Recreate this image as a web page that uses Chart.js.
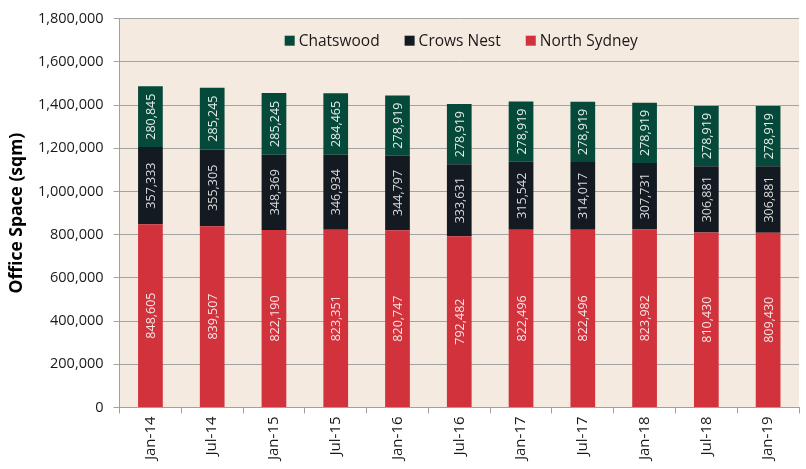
<!DOCTYPE html>
<html>
<head>
<meta charset="utf-8">
<script src="https://cdn.jsdelivr.net/npm/chart.js@4/dist/chart.umd.min.js"></script>
<style>
  body { margin: 0; background: #fff; }
  canvas { display: block; }
</style>
</head>
<body>
<canvas id="chart" width="806" height="469"></canvas>
<script>
const periods = ['Jan-14', 'Jul-14', 'Jan-15', 'Jul-15', 'Jan-16', 'Jul-16', 'Jan-17', 'Jul-17', 'Jan-18', 'Jul-18', 'Jan-19'];
const northSydney = [848605, 839507, 822190, 823351, 820747, 792482, 822496, 822496, 823982, 810430, 809430];
const crowsNest = [357333, 355305, 348369, 346934, 344797, 333631, 315542, 314017, 307731, 306881, 306881];
const chatswood = [280845, 285245, 285245, 284465, 278919, 278919, 278919, 278919, 278919, 278919, 278919];
const yTicks = [0, 200000, 400000, 600000, 800000, 1000000, 1200000, 1400000, 1600000, 1800000];

const FONT = '"Open Sans", "DejaVu Sans", sans-serif';
const fmt = v => v.toLocaleString('en-US');

// beige fill behind the plot area
const plotBackground = {
    id: 'plotBackground',
    beforeDraw(chart) {
        const { ctx, chartArea: a } = chart;
        ctx.save();
        ctx.fillStyle = '#f5eae0';
        ctx.fillRect(a.left, a.top, a.right - a.left, a.bottom - a.top);
        ctx.restore();
    }
};

// rotated value labels in the middle of each segment
const segmentLabels = {
    id: 'segmentLabels',
    afterDatasetsDraw(chart) {
        const ctx = chart.ctx;
        ctx.save();
        ctx.font = '12.5px ' + FONT;
        ctx.textAlign = 'center';
        ctx.textBaseline = 'middle';
        chart.data.datasets.forEach((ds, i) => {
            const meta = chart.getDatasetMeta(i);
            ctx.fillStyle = ds.labelColor;
            meta.data.forEach((bar, j) => {
                const y = (bar.y + bar.base) / 2;
                ctx.save();
                ctx.translate(bar.x, y);
                ctx.rotate(-Math.PI / 2);
                ctx.fillText(fmt(ds.data[j]), 0, 1);
                ctx.restore();
            });
        });
        ctx.restore();
    }
};

// legend sits inside the plot, near the top, in reverse stack order
const innerLegend = {
    id: 'innerLegend',
    afterDraw(chart) {
        const { ctx, chartArea: a } = chart;
        const items = chart.data.datasets.slice().reverse();
        const box = 10, gap = 4, spacing = 25;
        ctx.save();
        ctx.font = '15.5px ' + FONT;
        const widths = items.map(d => box + gap + ctx.measureText(d.label).width);
        const total = widths.reduce((s, w) => s + w, 0) + spacing * (items.length - 1);
        let x = (a.left + a.right) / 2 - total / 2 + 2;
        const y = a.top + 22;
        ctx.textBaseline = 'middle';
        items.forEach((d, i) => {
            ctx.fillStyle = d.backgroundColor;
            ctx.fillRect(x, y - box / 2, box, box);
            ctx.fillStyle = '#1a1a1a';
            ctx.fillText(d.label, x + box + gap, y + 1);
            x += widths[i] + spacing;
        });
        ctx.restore();
    }
};

new Chart(document.getElementById('chart'), {
    type: 'bar',
    data: {
        labels: periods,
        datasets: [
            { label: 'North Sydney', data: northSydney, backgroundColor: '#d1323c', labelColor: '#f6e4e4' },
            { label: 'Crows Nest', data: crowsNest, backgroundColor: '#131a22', labelColor: '#d9d9d9' },
            { label: 'Chatswood', data: chatswood, backgroundColor: '#05493a', labelColor: '#e6ece9' }
        ].map(d => Object.assign(d, {
            barPercentage: 0.4,
            categoryPercentage: 1,
            borderWidth: 0
        }))
    },
    options: {
        responsive: false,
        animation: false,
        layout: { padding: { top: 3, right: 7, left: 7, bottom: 6 } },
        plugins: {
            legend: { display: false },
            tooltip: { enabled: false }
        },
        scales: {
            x: {
                stacked: true,
                grid: { drawOnChartArea: false, color: '#a0a0a0', tickLength: 6, offset: true },
                border: { color: '#a0a0a0' },
                ticks: {
                    color: '#1a1a1a',
                    font: { family: FONT, size: 15 },
                    minRotation: 90,
                    maxRotation: 90,
                    padding: 3
                }
            },
            y: {
                stacked: true,
                min: 0,
                max: 1800000,
                afterBuildTicks(axis) {
                    axis.ticks = yTicks.map(v => ({ value: v }));
                },
                grid: { color: '#a3a3a3', tickLength: 6 },
                border: { color: '#a0a0a0' },
                ticks: {
                    color: '#1a1a1a',
                    font: { family: FONT, size: 14.5 },
                    padding: 10,
                    callback: v => fmt(v)
                },
                title: {
                    display: true,
                    text: 'Office Space (sqm)',
                    color: '#000',
                    font: { family: FONT, size: 17.5, weight: 'bold' },
                    padding: { top: 0, bottom: 0 }
                }
            }
        }
    },
    plugins: [plotBackground, segmentLabels, innerLegend]
});
</script>
</body>
</html>
